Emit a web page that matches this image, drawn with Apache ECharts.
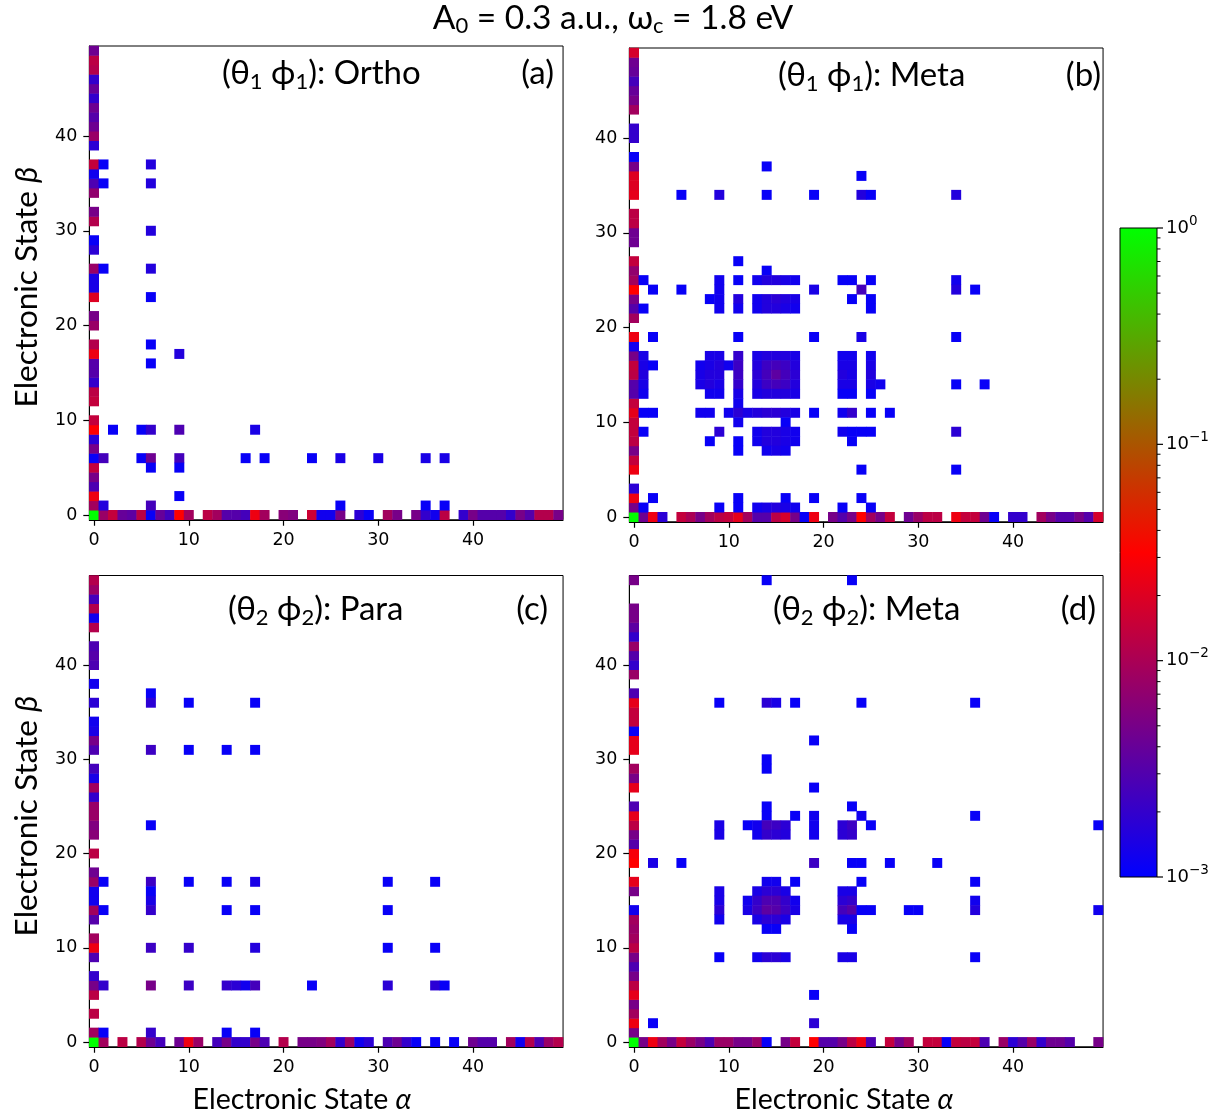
<!DOCTYPE html>
<html><head><meta charset="utf-8">
<script src="https://cdn.jsdelivr.net/npm/echarts@6/dist/echarts.min.js"></script>
<style>html,body{margin:0;padding:0;background:#fff}#c{width:1231px;height:1118px}</style>
</head><body><div id="c"></div><script>
// ---------- DATA (values are log10 of the population; null = empty cell) ----------
const states = []; for (let i = 0; i < 50; i++) states.push(String(i));
const tickStates = [0, 10, 20, 30, 40];
const cbarLabels = ['0', '\u22121', '\u22122', '\u22123'];

// Panel (a) Ortho: column alpha=0 indexed by beta; row beta=0 indexed by alpha
const aCol0 = [0,-2.05,-1.6,-2.55,-2.3,-1.85,-2.95,-2.3,-2.75,-1.5,-1.85,null,-1.85,-1.9,-2.7,-2.5,-2.5,-1.6,-1.95,null,-2.1,-2.3,null,-1.7,-2.85,-2.85,-2.1,null,-2.75,-2.95,null,-1.95,-2.3,null,-2.15,-2.55,-2.9,-1.85,null,-2.75,-2.1,-2.35,-2.5,-2.35,-2.7,-2.4,-2.7,-1.95,-1.9,-2.35];
const aRow0 = [null,-2.1,-1.85,-2.4,-2.45,-1.9,-2.95,-2.4,-2.6,-1.5,-2.05,null,-1.9,-2.05,-2.5,-2.5,-2.6,-1.6,-2.05,null,-2.2,-2.25,null,-1.8,-2.9,-2.9,-2.3,null,-2.75,-2.95,null,-2.05,-2.3,null,-2.3,-2.7,-2.9,-1.9,null,-2.7,-2.3,-2.5,-2.5,-2.5,-2.7,-2.3,-2.5,-1.95,-1.95,-2.3];
const aCells = [[1,37,-2.95],[6,37,-2.8],[1,35,-2.95],[6,35,-2.8],[6,30,-2.8],[1,26,-2.95],[6,26,-2.8],[6,23,-2.95],[6,18,-2.95],[9,17,-2.8],[6,16,-2.95],
 [2,9,-2.95],[5,9,-2.95],[6,9,-2.7],[9,9,-2.55],[17,9,-2.85],
 [1,6,-2.6],[5,6,-2.95],[6,6,-2.35],[9,6,-2.6],[16,6,-2.95],[18,6,-2.95],[23,6,-2.95],[26,6,-2.85],[30,6,-2.85],[35,6,-2.85],[37,6,-2.85],
 [6,5,-2.95],[9,5,-2.95],[9,2,-2.95],
 [1,1,-2.8],[6,1,-2.6],[26,1,-2.95],[35,1,-2.95],[37,1,-2.95]];

// Panel (b) Meta (theta1 phi1)
const bCol0 = [0,-2.3,-1.6,-2.75,null,-1.6,-1.85,-2.3,-1.9,-1.85,-1.85,-1.65,-1.85,-2.5,-2.5,-1.9,-1.85,-2.3,-2.9,-1.6,null,-2.05,-2.5,-2.3,-1.5,-2.05,-2.15,-1.85,null,-2.35,-2.35,-1.9,-1.9,null,-1.65,-1.7,-1.7,-2.3,-2.95,null,-2.7,-2.7,null,-2.05,-2.3,-2.4,-2.6,-2.4,-2.35,-1.75];
const bRow0 = [null,-2.35,-1.6,-2.75,null,-1.85,-2.0,-2.3,-2.05,-1.9,-1.85,-1.65,-2.05,-2.5,-2.5,-1.9,-1.75,-2.3,-2.95,-1.6,null,-2.3,-2.5,-2.3,-1.5,-2.05,-2.3,-1.85,null,-2.35,-2.1,-1.9,-1.9,null,-1.6,-1.85,-1.85,-2.35,-2.95,null,-2.7,-2.7,null,-2.05,-2.3,-2.5,-2.5,-2.3,-2.5,-1.75];
const bCells = [[14,37,-2.95],[24,36,-2.95],
 [5,34,-2.95],[9,34,-2.8],[14,34,-2.95],[19,34,-2.95],[24,34,-2.8],[25,34,-2.95],[34,34,-2.8],
 [11,27,-2.95],[14,26,-2.95],
 [1,25,-2.95],[9,25,-2.9],[11,25,-2.95],[13,25,-2.9],[14,25,-2.8],[15,25,-2.8],[16,25,-2.85],[17,25,-2.9],[22,25,-2.95],[23,25,-2.95],[25,25,-2.95],[34,25,-2.9],
 [2,24,-2.95],[5,24,-2.95],[9,24,-2.9],[19,24,-2.85],[24,24,-2.6],[34,24,-2.8],[36,24,-2.95],
 [8,23,-2.95],[9,23,-2.9],[11,23,-2.8],[13,23,-2.9],[14,23,-2.8],[15,23,-2.75],[16,23,-2.8],[17,23,-2.85],[23,23,-2.95],[25,23,-2.95],
 [1,22,-2.95],[9,22,-2.9],[11,22,-2.9],[13,22,-2.9],[14,22,-2.8],[15,22,-2.8],[16,22,-2.85],[17,22,-2.9],[25,22,-2.95],
 [2,19,-2.95],[11,19,-2.95],[19,19,-2.95],[24,19,-2.85],[34,19,-2.95],
 [1,17,-2.85],[8,17,-2.85],[9,17,-2.85],[11,17,-2.7],[13,17,-2.85],[14,17,-2.8],[15,17,-2.8],[16,17,-2.8],[17,17,-2.85],[22,17,-2.9],[23,17,-2.9],[25,17,-2.9],
 [1,16,-2.85],[2,16,-2.95],[7,16,-2.9],[8,16,-2.85],[9,16,-2.8],[10,16,-2.9],[11,16,-2.65],[13,16,-2.8],[14,16,-2.65],[15,16,-2.6],[16,16,-2.65],[17,16,-2.8],[22,16,-2.85],[23,16,-2.85],[25,16,-2.85],
 [1,15,-2.8],[7,15,-2.85],[8,15,-2.8],[9,15,-2.8],[11,15,-2.65],[13,15,-2.75],[14,15,-2.6],[15,15,-2.45],[16,15,-2.6],[17,15,-2.75],[22,15,-2.8],[23,15,-2.85],[25,15,-2.8],
 [1,14,-2.85],[7,14,-2.85],[8,14,-2.8],[9,14,-2.85],[11,14,-2.7],[13,14,-2.8],[14,14,-2.65],[15,14,-2.6],[16,14,-2.65],[17,14,-2.8],[22,14,-2.85],[23,14,-2.85],[25,14,-2.85],[26,14,-2.9],[34,14,-2.95],[37,14,-2.95],
 [1,13,-2.9],[8,13,-2.9],[9,13,-2.9],[11,13,-2.85],[13,13,-2.85],[14,13,-2.8],[15,13,-2.8],[16,13,-2.8],[17,13,-2.85],[22,13,-2.95],[23,13,-2.95],[25,13,-2.95],
 [11,12,-2.9],
 [1,11,-2.95],[2,11,-2.95],[7,11,-2.9],[8,11,-2.9],[10,11,-2.9],[11,11,-2.75],[12,11,-2.85],[13,11,-2.8],[14,11,-2.75],[15,11,-2.75],[16,11,-2.8],[17,11,-2.85],[19,11,-2.95],[22,11,-2.9],[23,11,-2.7],[25,11,-2.95],[27,11,-2.95],
 [11,10,-2.9],[16,10,-2.95],
 [1,9,-2.95],[9,9,-2.75],[13,9,-2.9],[14,9,-2.8],[15,9,-2.8],[16,9,-2.85],[17,9,-2.9],[22,9,-2.9],[23,9,-2.95],[24,9,-2.95],[25,9,-2.95],[34,9,-2.75],
 [8,8,-2.95],[11,8,-2.95],[13,8,-2.9],[14,8,-2.8],[15,8,-2.8],[16,8,-2.85],[17,8,-2.9],[23,8,-2.95],
 [11,7,-2.95],[14,7,-2.9],[15,7,-2.85],[16,7,-2.9],
 [24,5,-2.95],[34,5,-2.95],
 [2,2,-2.95],[11,2,-2.95],[16,2,-2.95],[19,2,-2.95],[24,2,-2.95],
 [1,1,-2.95],[9,1,-2.95],[11,1,-2.95],[13,1,-2.9],[14,1,-2.85],[15,1,-2.8],[16,1,-2.85],[17,1,-2.9],[22,1,-2.95],[25,1,-2.95]];

// Panel (c) Para
const cCol0 = [0,-2.05,null,-1.9,null,-1.9,-2.3,-2.7,null,-2.55,-1.6,-2.05,null,-2.5,-2.05,-2.9,-2.9,-2.1,-2.35,null,-1.9,null,-2.2,-2.25,-2.1,-2.1,-2.7,-2.05,-2.85,-2.6,null,-2.55,-2.3,-2.85,-2.9,null,-2.75,null,-2.9,null,-2.55,-2.5,-2.55,null,-1.95,-2.9,-1.95,-2.6,-2.1,-1.95];
const cRow0 = [null,-2.05,null,-1.9,null,-1.95,-2.35,-2.6,null,-2.35,-1.6,-2.1,null,-2.6,-2.3,-2.7,-2.7,-2.3,-2.55,null,-1.95,null,-2.3,-2.3,-2.25,-2.05,-2.7,-2.1,-2.9,-2.75,null,-2.55,-2.35,-2.7,-2.95,null,-2.95,null,-2.95,null,-2.35,-2.5,-2.5,null,-2.05,-2.9,-1.95,-2.55,-2.1,-1.95];
const cCells = [[6,37,-2.95],[6,36,-2.75],[10,36,-2.95],[17,36,-2.95],
 [6,31,-2.65],[10,31,-2.95],[14,31,-2.95],[17,31,-2.95],
 [6,23,-2.95],
 [1,17,-2.95],[6,17,-2.65],[10,17,-2.95],[14,17,-2.95],[17,17,-2.85],[31,17,-2.95],[36,17,-2.95],
 [6,16,-2.95],[6,15,-2.85],
 [1,14,-2.95],[6,14,-2.7],[14,14,-2.95],[17,14,-2.95],[31,14,-2.95],
 [6,10,-2.65],[10,10,-2.7],[17,10,-2.8],[31,10,-2.95],[36,10,-2.95],
 [1,6,-2.7],[6,6,-2.3],[10,6,-2.65],[14,6,-2.7],[15,6,-2.75],[16,6,-2.9],[17,6,-2.6],[23,6,-2.95],[31,6,-2.75],[36,6,-2.75],[37,6,-2.95],
 [1,1,-2.95],[6,1,-2.7],[14,1,-2.95],[17,1,-2.95]];

// Panel (d) Meta (theta2 phi2)
const dCol0 = [0,-2.3,-1.6,-2.05,-2.3,-1.65,-1.9,-2.3,-2.55,-2.3,-1.9,-2.05,-2.1,-2.05,-2.9,null,-2.3,-1.65,null,-1.5,-1.55,-2.5,-2.3,-1.9,-1.65,-2.55,null,-1.65,-2.3,-2.05,null,-1.65,-1.65,-2.95,-1.85,-1.85,-1.65,-2.55,null,-2.1,-2.7,-2.5,-2.1,-2.7,-2.45,-2.3,-2.3,null,null,-2.3];
const dRow0 = [null,-2.3,-1.6,-2.05,-2.3,-1.85,-2.1,-2.3,-2.55,-2.1,-2.1,-2.3,-2.3,-2.1,-2.95,null,-2.3,-1.85,null,-1.5,-2.5,-2.5,-2.3,-1.9,-1.6,-2.55,null,-1.85,-2.3,-2.05,null,-1.85,-1.85,-2.95,-1.85,-1.9,-1.85,-2.55,null,-2.1,-2.75,-2.5,-2.1,-2.7,-2.35,-2.35,-2.5,null,null,-2.3];
const dCells = [[14,49,-2.95],[23,49,-2.95],
 [9,36,-2.95],[14,36,-2.75],[15,36,-2.85],[17,36,-2.95],[24,36,-2.95],[36,36,-2.95],
 [19,32,-2.95],[14,30,-2.95],[14,29,-2.95],[19,27,-2.95],
 [14,25,-2.95],[23,25,-2.95],
 [14,24,-2.95],[17,24,-2.95],[19,24,-2.9],[24,24,-2.9],[36,24,-2.95],
 [9,23,-2.85],[12,23,-2.95],[13,23,-2.9],[14,23,-2.6],[15,23,-2.65],[16,23,-2.75],[19,23,-2.9],[22,23,-2.75],[23,23,-2.65],[25,23,-2.95],[49,23,-2.95],
 [9,22,-2.85],[13,22,-2.9],[14,22,-2.7],[15,22,-2.75],[16,22,-2.8],[19,22,-2.9],[22,22,-2.75],[23,22,-2.7],
 [2,19,-2.85],[5,19,-2.95],[19,19,-2.65],[23,19,-2.95],[24,19,-2.95],[27,19,-2.95],[32,19,-2.95],
 [14,17,-2.9],[15,17,-2.9],[17,17,-2.95],[24,17,-2.95],[36,17,-2.95],
 [9,16,-2.85],[13,16,-2.85],[14,16,-2.75],[15,16,-2.75],[16,16,-2.85],[22,16,-2.85],[23,16,-2.85],
 [9,15,-2.85],[12,15,-2.9],[13,15,-2.7],[14,15,-2.55],[15,15,-2.55],[16,15,-2.7],[17,15,-2.9],[22,15,-2.75],[23,15,-2.7],[36,15,-2.9],
 [9,14,-2.75],[12,14,-2.85],[13,14,-2.65],[14,14,-2.45],[15,14,-2.5],[16,14,-2.65],[17,14,-2.85],[22,14,-2.6],[23,14,-2.5],[24,14,-2.95],[25,14,-2.95],[29,14,-2.95],[30,14,-2.95],[36,14,-2.8],[49,14,-2.9],
 [9,13,-2.9],[13,13,-2.85],[14,13,-2.75],[15,13,-2.75],[16,13,-2.85],[22,13,-2.85],[23,13,-2.85],
 [14,12,-2.95],[15,12,-2.95],[23,12,-2.95],
 [9,9,-2.95],[13,9,-2.9],[14,9,-2.75],[15,9,-2.75],[16,9,-2.85],[22,9,-2.85],[23,9,-2.85],[36,9,-2.95],
 [19,5,-2.95],[2,2,-2.95],[19,2,-2.75]];

// ---------- BUILD ----------
function build(col0, row0, cells) {
  const out = [];
  col0.forEach((v, b) => { if (v !== null) out.push([0, b, v]); });
  row0.forEach((v, a) => { if (a > 0 && v !== null) out.push([a, 0, v]); });
  cells.forEach(c => out.push([c[0], c[1], c[2]]));
  return out;
}
const panels = [build(aCol0, aRow0, aCells), build(bCol0, bRow0, bCells), build(cCol0, cRow0, cCells), build(dCol0, dRow0, dCells)];

const grids = [
  {left: 89.3, top: 46.0, width: 473.75, height: 473.75},
  {left: 629.3, top: 48.0, width: 473.75, height: 473.75},
  {left: 89.3, top: 575.5, width: 473.75, height: 471.25},
  {left: 629.3, top: 575.5, width: 473.75, height: 471.25}
];
const showTick = (idx) => tickStates.indexOf(idx) >= 0;
function axis(i) {
  return {
    type: 'category', gridIndex: i, data: states, boundaryGap: true,
    axisLine: {show: true, lineStyle: {color: '#000', width: 1}},
    axisTick: {show: true, alignWithLabel: true, interval: showTick, length: 6, lineStyle: {color: '#000', width: 1.2}},
    axisLabel: {show: true, interval: showTick, fontFamily: 'DejaVu Sans', fontSize: 17.5, color: '#000', margin: 12},
    splitLine: {show: false}, splitArea: {show: false}
  };
}
const TF = 'Lato';
const rich = {
  m: {fontSize: 33, fontFamily: TF, fill: '#000', lineHeight: 40},
  s: {fontSize: 22, fontFamily: TF, fill: '#000', lineHeight: 16, verticalAlign: 'bottom'}
};
const axRichX = {
  m: {fontSize: 28.5, fontFamily: TF, fill: '#000', lineHeight: 36},
  i: {fontSize: 28.5, fontFamily: TF, fill: '#000', fontStyle: 'italic', lineHeight: 36}
};
const axRichY = {
  m: {fontSize: 31.5, fontFamily: TF, fill: '#000', lineHeight: 38},
  i: {fontSize: 31.5, fontFamily: TF, fill: '#000', fontStyle: 'italic', lineHeight: 38}
};
function rtext(x, y, text, align, rot, r) {
  return {type: 'text', x: x, y: y, rotation: rot || 0, silent: true,
    style: {text: text, rich: r || rich, align: align || 'left', verticalAlign: 'middle', textAlign: align || 'left', textVerticalAlign: 'middle'}};
}
const graphics = [];
const titleRich = {
  m: {fontSize: 33.5, fontFamily: TF, fill: '#000', lineHeight: 38},
  s: {fontSize: 22, fontFamily: TF, fill: '#000', lineHeight: 14, verticalAlign: 'bottom'}
};
graphics.push(rtext(613, 18, '{m|A}{s|0}{m| = 0.3 a.u., \u03c9}{s|c}{m| = 1.8 eV}', 'center', 0, titleRich));
graphics.push(rtext(222, 73, '{m|(\u03b8}{s|1}{m| \u03d5}{s|1}{m|): Ortho}', 'left'));
graphics.push(rtext(554, 73, '{m|(a)}', 'right'));
graphics.push(rtext(778, 75, '{m|(\u03b8}{s|1}{m| \u03d5}{s|1}{m|): Meta}', 'left'));
graphics.push(rtext(1101, 75, '{m|(b)}', 'right'));
graphics.push(rtext(228, 609, '{m|(\u03b8}{s|2}{m| \u03d5}{s|2}{m|): Para}', 'left'));
graphics.push(rtext(548, 609, '{m|(c)}', 'right'));
graphics.push(rtext(773, 609, '{m|(\u03b8}{s|2}{m| \u03d5}{s|2}{m|): Meta}', 'left'));
graphics.push(rtext(1096, 609, '{m|(d)}', 'right'));
graphics.push(rtext(27, 287, '{m|Electronic State }{i|\u03b2}', 'center', Math.PI / 2, axRichY));
graphics.push(rtext(27, 816, '{m|Electronic State }{i|\u03b2}', 'center', Math.PI / 2, axRichY));
graphics.push(rtext(302, 1100, '{m|Electronic State }{i|\u03b1}', 'center', 0, axRichX));
graphics.push(rtext(844, 1100, '{m|Electronic State }{i|\u03b1}', 'center', 0, axRichX));

// colorbar (log10 scale -3 .. 0)
const cb = {x: 1120, y: 228, w: 37, h: 649};
graphics.push({type: 'rect', silent: true, shape: {x: cb.x, y: cb.y, width: cb.w, height: cb.h},
  style: {fill: {type: 'linear', x: 0, y: 1, x2: 0, y2: 0, colorStops: [{offset: 0, color: '#0000ff'}, {offset: 0.5, color: '#ff0000'}, {offset: 1, color: '#00ff00'}]}, stroke: '#000', lineWidth: 1}});
const supRich = {
  b: {fontSize: 18, fontFamily: 'DejaVu Sans', fill: '#000', lineHeight: 28},
  p: {fontSize: 13.5, fontFamily: 'DejaVu Sans', fill: '#000', lineHeight: 16, verticalAlign: 'top'}
};
cbarLabels.forEach((lab, k) => {
  const yy = cb.y + k * cb.h / 3;
  graphics.push({type: 'line', silent: true, shape: {x1: cb.x + cb.w, y1: yy, x2: cb.x + cb.w + 6, y2: yy}, style: {stroke: '#000', lineWidth: 1.2}});
  graphics.push(rtext(cb.x + cb.w + 9, yy, '{b|10}{p|' + lab + '}', 'left', 0, supRich));
});
for (let d = 0; d < 3; d++) {
  for (let m = 2; m <= 9; m++) {
    const yy = cb.y + cb.h - (d + Math.log10(m)) * cb.h / 3;
    graphics.push({type: 'line', silent: true, shape: {x1: cb.x + cb.w, y1: yy, x2: cb.x + cb.w + 3.5, y2: yy}, style: {stroke: '#000', lineWidth: 1}});
  }
}

const option = {
  animation: false,
  backgroundColor: '#fff',
  grid: grids.map(g => Object.assign({show: true, borderColor: '#000', borderWidth: 1, backgroundColor: '#fff', containLabel: false}, g)),
  xAxis: [0, 1, 2, 3].map(axis),
  yAxis: [0, 1, 2, 3].map(axis),
  visualMap: {type: 'continuous', show: false, min: -3, max: 0, dimension: 2, seriesIndex: [0, 1, 2, 3],
    inRange: {color: ['#0000ff', '#ff0000', '#00ff00']}},
  series: panels.map((p, i) => ({type: 'heatmap', xAxisIndex: i, yAxisIndex: i, data: p,
    itemStyle: {borderWidth: 0}, emphasis: {disabled: true}, progressive: 0})),
  graphic: graphics
};
const chart = echarts.init(document.getElementById('c'));
chart.setOption(option);
</script></body></html>
